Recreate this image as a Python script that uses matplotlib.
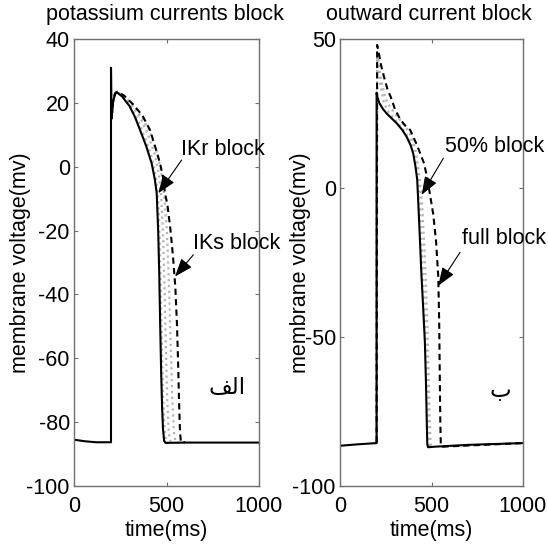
import matplotlib
matplotlib.use("Agg")
import matplotlib.pyplot as plt

plt.rcParams['font.family'] = ['Liberation Sans', 'DejaVu Sans']
plt.rcParams['axes.unicode_minus'] = False

# ---- potassium currents block (left) ----
L_ctrl_t = [0, 60, 120, 200, 200, 203, 212, 222, 232, 260, 300, 330, 357, 390, 420, 437, 447,
            455, 461, 466, 471, 476, 481, 487, 495, 600, 800, 1000]
L_ctrl_v = [-85.5, -86.0, -86.3, -86.3, 31, 15, 20.5, 22.8, 23.3, 22, 19, 15.5, 11.5, 6.5, 1, -4, -8.3,
            -20, -34, -50, -64, -75, -82, -85.8, -86.5, -86.4, -86.4, -86.4]

L_g1_t = [203, 212, 222, 232, 265, 310, 350, 385, 420, 442, 455, 463, 470, 476, 482, 490, 500, 520]
L_g1_v = [15, 20.5, 22.8, 23.3, 21.8, 18.5, 14, 9, 3, -3, -10, -22, -40, -58, -73, -83, -86.4, -86.4]
L_g2_t = [203, 212, 222, 232, 270, 320, 365, 400, 435, 458, 472, 482, 490, 497, 504, 512, 522, 540]
L_g2_v = [15, 20.5, 22.8, 23.3, 22, 18.8, 14.5, 10, 4, -2, -10, -22, -40, -58, -73, -83, -86.4, -86.4]
L_g3_t = [203, 212, 222, 232, 270, 320, 370, 410, 445, 470, 488, 502, 514, 523, 531, 540, 550, 570]
L_g3_v = [15, 20.5, 22.8, 23.4, 22.2, 19.2, 15.3, 11, 5, -1, -9, -20, -38, -56, -72, -83, -86.4, -86.4]

L_iks_t = [203, 212, 222, 232, 270, 320, 370, 411, 440, 465, 480, 492, 505, 520, 535, 548, 557,
           563, 568, 573, 578, 600]
L_iks_v = [15.5, 21, 23, 23.5, 22.3, 19.5, 16, 11.5, 6, 1.1, -3, -8.3, -12, -19, -28, -38, -50,
           -62, -74, -83, -86.3, -86.3]

# ---- outward current block (right) ----
R_ctrl_t = [0, 100, 200, 200, 204, 215, 235, 255, 280, 310, 340, 364, 385, 400, 413, 422, 433,
            445, 456, 464, 470, 474, 477, 481, 520, 700, 1000]
R_ctrl_v = [-86.5, -86.0, -85.6, 32, 30.5, 28.5, 26.5, 25, 23.5, 21.7, 19.5, 17.2, 14.5, 11.6, 7, 2.7, -12,
            -29, -42, -52, -66, -78, -86, -87, -86.8, -86.2, -85.6]

R_g1_t = [200, 203, 210, 222, 240, 265, 300, 340, 375, 400, 416, 428, 436, 447, 458, 467, 474,
          479, 483, 487, 500]
R_g1_v = [-85.6, 44, 40, 34, 28.5, 25.5, 23, 20, 17, 13, 8, 2, -6, -20, -35, -50, -63,
          -75, -84, -87, -86.8]
R_g2_t = [200, 203, 212, 226, 248, 275, 315, 355, 388, 412, 428, 440, 450, 461, 471, 479, 485,
          490, 495, 505]
R_g2_v = [-85.6, 46, 42, 36, 30, 27, 23.8, 20.8, 17.5, 13, 7, 1, -7, -20, -35, -50, -64,
          -77, -86, -86.8]

R_full_t = [200, 203, 210, 225, 240, 260, 277, 300, 331, 360, 383, 420, 459, 478, 492, 510, 525,
            537, 542, 545, 548, 551, 560, 1000]
R_full_v = [-85.6, 48, 46, 41, 37.4, 33, 30.6, 26.5, 22.8, 20.7, 19.5, 14.5, 8.3, 3, -2.3, -9, -18,
            -29.8, -45, -62, -78, -86.5, -86.8, -85.6]

L_yticks = [40, 20, 0, -20, -40, -60, -80, -100]
R_yticks = [50, 0, -50, -100]
x_ticks = [0, 500, 1000]

FS = 15.5
GRAY = '#b4b4b4'
FRAME = '#707070'

fig = plt.figure(figsize=(5.48, 5.48), dpi=100)
axL = fig.add_axes([74 / 548, 62 / 548, 185 / 548, 447 / 548])
axR = fig.add_axes([340 / 548, 62 / 548, 183 / 548, 447 / 548])

def style(ax, ylim, yticks):
    ax.set_xlim(0, 1000)
    ax.set_ylim(*ylim)
    ax.set_xticks(x_ticks)
    ax.set_yticks(yticks)
    ax.tick_params(direction='in', length=3, width=0.8, color=FRAME,
                   top=True, right=True, labelsize=FS)
    ax.tick_params(axis='x', pad=7)
    ax.tick_params(axis='y', pad=3)
    for s in ax.spines.values():
        s.set_color(FRAME)
        s.set_linewidth(1.0)
    ax.set_xlabel('time(ms)', fontsize=FS)
    ax.set_ylabel('membrane voltage(mv)', fontsize=FS)

def arrow(ax, tip, start):
    ax.annotate('', xy=tip, xytext=start,
                arrowprops=dict(arrowstyle='-|>,head_length=0.75,head_width=0.28',
                                mutation_scale=15, color='black', lw=0.8,
                                shrinkA=0, shrinkB=0))

# left panel
for t, v in [(L_g1_t, L_g1_v), (L_g2_t, L_g2_v), (L_g3_t, L_g3_v)]:
    axL.plot(t, v, color=GRAY, lw=1.6, ls=':')
axL.plot(L_iks_t, L_iks_v, color='black', lw=1.5, ls=(0, (3, 2)))
axL.plot(L_ctrl_t, L_ctrl_v, color='black', lw=1.5)
style(axL, (-100, 40), L_yticks)
axL.yaxis.set_label_coords(-0.232, 0.5)
axL.xaxis.set_label_coords(0.5, -0.075)
axL.text(-0.152, 1.054, 'potassium currents block', transform=axL.transAxes,
         fontsize=FS, ha='left', va='center')
axL.text(577, 5.5, 'IKr block', fontsize=FS, ha='left', va='center')
arrow(axL, (456, -8.3), (582, 2.1))
axL.text(645, -24, 'IKs block', fontsize=FS, ha='left', va='center')
arrow(axL, (546, -34.4), (645, -27.6))
axL.text(827, -69, '\uFED2\uFEDF\uFE8D', fontsize=FS + 1, ha='center', va='center',
         family=['DejaVu Sans'])

# right panel
for t, v in [(R_g1_t, R_g1_v), (R_g2_t, R_g2_v)]:
    axR.plot(t, v, color=GRAY, lw=1.6, ls=':')
axR.plot(R_full_t, R_full_v, color='black', lw=1.5, ls=(0, (3, 2)))
axR.plot(R_ctrl_t, R_ctrl_v, color='black', lw=1.5)
style(axR, (-100, 50), R_yticks)
axR.yaxis.set_label_coords(-0.16, 0.5)
axR.xaxis.set_label_coords(0.5, -0.075)
axR.text(-0.075, 1.054, 'outward current block', transform=axR.transAxes,
         fontsize=FS, ha='left', va='center')
axR.text(574, 13.9, '50% block', fontsize=FS, ha='left', va='center')
arrow(axR, (446, -2.3), (565, 10))
axR.text(665, -17.1, 'full block', fontsize=FS, ha='left', va='center')
arrow(axR, (537, -32.8), (656, -21.6))
axR.text(874, -67.8, '\u0628', fontsize=FS + 1, ha='center', va='center',
         family=['DejaVu Sans'])

fig.savefig('out.png', dpi=100, facecolor='white')
